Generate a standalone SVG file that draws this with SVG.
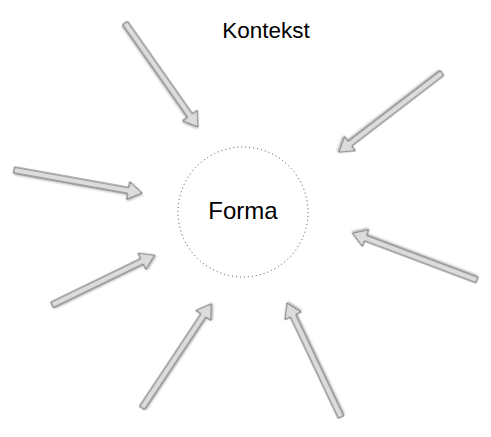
<svg xmlns="http://www.w3.org/2000/svg" width="491" height="437" viewBox="0 0 491 437">
<style>
.arr{fill:#dcdcdc;stroke:#6a6a6a;stroke-width:1;stroke-linejoin:miter;filter:url(#sh)}
.lbl{font-family:"Liberation Sans",Arial,Helvetica,sans-serif;fill:#000;text-anchor:middle}
</style>
<defs>
<filter id="sh" x="-20%" y="-20%" width="140%" height="140%">
<feDropShadow dx="1" dy="1" stdDeviation="0.8" flood-color="#000" flood-opacity="0.35"/>
</filter>
</defs>
<rect width="491" height="437" fill="#fff"/>
<g id="kontekst"><text class="lbl" x="266" y="38" font-size="22.5">Kontekst</text></g>
<g id="forma">
<circle cx="243" cy="212" r="65" fill="none" stroke="#444" stroke-width="1" stroke-dasharray="1 3"/>
<text class="lbl" x="243" y="219" font-size="24">Forma</text>
</g>
<g id="connectors">
<polygon class="arr" transform="translate(125,23) rotate(54.93)" points="0,-3 113,-3 113,-9 127,0 113,9 113,3 0,3"/>
<polygon class="arr" transform="translate(442,73) rotate(142.51)" points="0,-3 116,-3 116,-9 130,0 116,9 116,3 0,3"/>
<polygon class="arr" transform="translate(14,170) rotate(10.19)" points="0,-3 116,-3 116,-9 130,0 116,9 116,3 0,3"/>
<polygon class="arr" transform="translate(52,305) rotate(-25.89)" points="0,-3 100,-3 100,-9 114,0 100,9 100,3 0,3"/>
<polygon class="arr" transform="translate(477,280) rotate(-159.4)" points="0,-3 119,-3 119,-9 133,0 119,9 119,3 0,3"/>
<polygon class="arr" transform="translate(142,408) rotate(-56.44)" points="0,-3 111,-3 111,-9 125,0 111,9 111,3 0,3"/>
<polygon class="arr" transform="translate(341,417) rotate(-115.35)" points="0,-3 112,-3 112,-9 126,0 112,9 112,3 0,3"/>
</g>
</svg>
